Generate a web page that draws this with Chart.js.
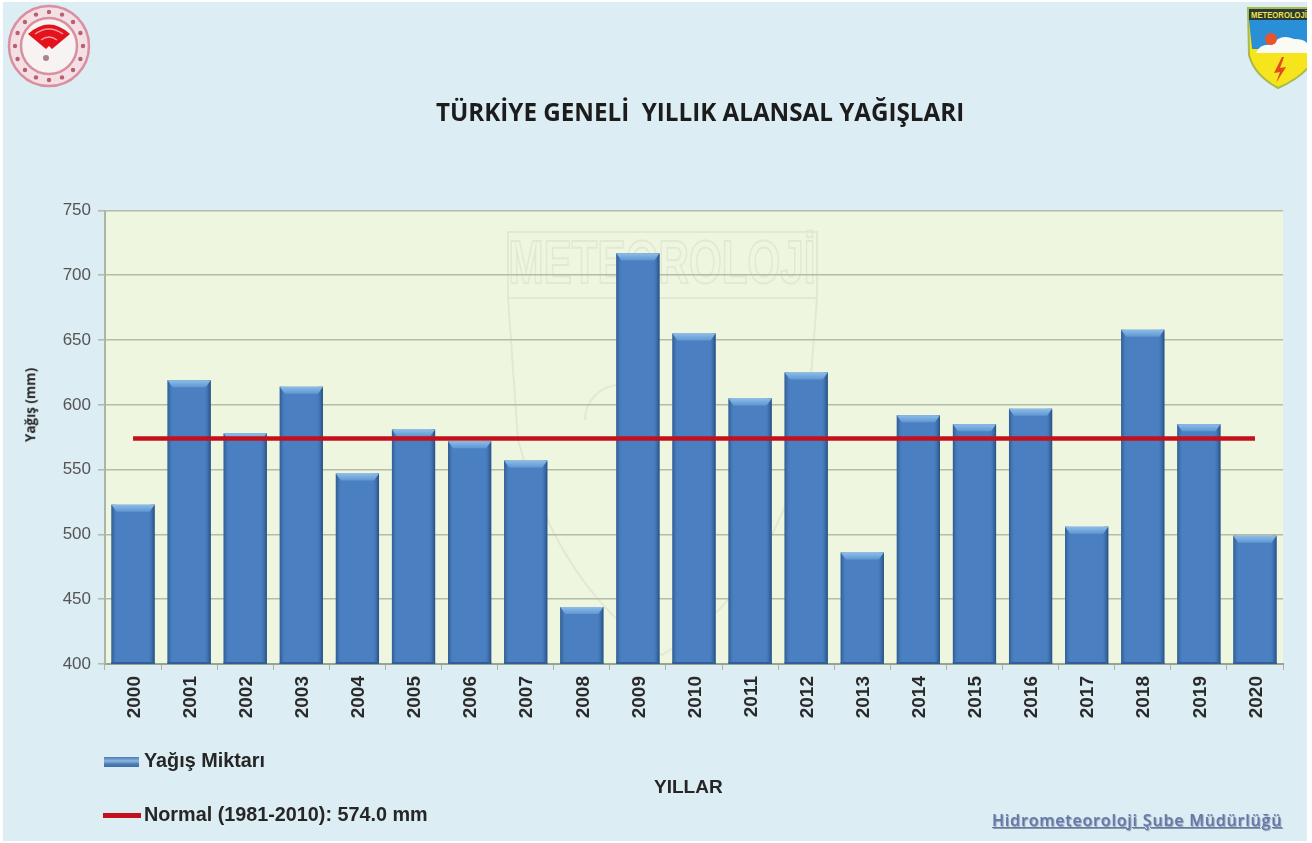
<!DOCTYPE html>
<html lang="tr">
<head>
<meta charset="utf-8">
<title>Türkiye Geneli Yıllık Alansal Yağışları</title>
<script src="https://cdn.jsdelivr.net/npm/chart.js@4"></script>
<style>
    html, body { margin: 0; padding: 0; background: #fff; overflow: hidden; }
    #page { position: relative; width: 1312px; height: 843px; overflow: hidden; filter: blur(0.7px); }
    #bg { position: absolute; left: 3px; top: 2px; width: 1304px; height: 839px; background: #dcedf3; }
    canvas { position: absolute; left: 0; top: 0; }
    .lbl { position: absolute; white-space: pre; font-family: "Liberation Sans", Arial, sans-serif; font-weight: bold; color: #262626; line-height: 1; }
    #title { left: 436px; top: 100px; font: bold 24.2px "Open Sans", sans-serif; line-height: 1; color: #1c1c1c; }
    #ytitle { left: 31px; top: 405px; font: bold 13.5px "Open Sans", sans-serif; line-height: 1; transform: translate(-50%, -50%) rotate(-90deg); }
    #xtitle { left: 654px; top: 777px; font-size: 19px; }
    #leg1 { left: 144px; top: 751px; font-size: 19.8px; }
    #leg2 { left: 144px; top: 805px; font-size: 19.8px; }
    #sw1 { position: absolute; left: 104px; top: 757px; width: 35px; height: 10px; background: linear-gradient(#4a7db8, #8db6dd 40%, #4a7db8 70%, #3f6ea6); }
    #sw2 { position: absolute; left: 103px; top: 813px; width: 38px; height: 5px; background: #c4101c; }
    #footer { left: 992px; top: 812px; font: 600 16px "Open Sans", sans-serif; letter-spacing: 0.82px; line-height: 1; color: #6478a8; text-decoration: underline; text-shadow: 1px 1px 1px #8b97ad; }
    svg { position: absolute; }
</style>
</head>
<body>
<div id="page">
    <div id="bg"></div>
    <canvas id="yagis-chart" width="1312" height="843"></canvas>

    <svg style="left:5px;top:2px" width="88" height="88" viewBox="0 0 88 88">
        <circle cx="44" cy="44" r="40" fill="#f3dfe4" stroke="#d98f9f" stroke-width="2.5"/>
        <circle cx="44" cy="44" r="28" fill="#f7f3f3" stroke="#d98f9f" stroke-width="2.5"/>
        <g id="dots" fill="#b8606f"></g>
        <path d="M23 32 Q44 13 65 32 L47 47 L44 44 L41 47 Z" fill="#e3121c"/>
        <path d="M30 32 Q44 22 58 32 M36 38 Q44 32 52 38" fill="none" stroke="#f59aa0" stroke-width="1.5"/>
        <circle cx="41" cy="56" r="3" fill="#a9848a"/>
    </svg>
    <svg style="left:1246px;top:7px" width="61" height="83" viewBox="0 0 61 83">
        <path d="M2 1 H70 V48 Q62 68 32 81 Q8 68 3 48 Z" fill="#f6e41c" stroke="#a9b84f" stroke-width="2"/>
        <rect x="3" y="2" width="58" height="11" fill="#2a3a34"/>
        <text x="5" y="11" font-family="Liberation Sans" font-size="9" font-weight="bold" fill="#f0e24a" textLength="56" lengthAdjust="spacingAndGlyphs">METEOROLOJİ</text>
        <path d="M3 13 H61 V42 H6 Z" fill="#2b8fd8"/>
        <path d="M10 46 Q14 36 26 38 Q34 26 48 32 Q58 32 61 36 V46 Z" fill="#fbfbf5"/>
        <circle cx="25" cy="32" r="6" fill="#e8552a"/>
        <path d="M36 50 L28 66 L34 65 L30 76 L40 60 L34 61 L38 50 Z" fill="#e2491f"/>
    </svg>

    <div class="lbl" id="title">TÜRKİYE GENELİ  YILLIK ALANSAL YAĞIŞLARI</div>
    <div class="lbl" id="ytitle">Yağış (mm)</div>
    <div class="lbl" id="xtitle">YILLAR</div>
    <div id="sw1"></div>
    <div class="lbl" id="leg1">Yağış Miktarı</div>
    <div id="sw2"></div>
    <div class="lbl" id="leg2">Normal (1981-2010): 574.0 mm</div>
    <div class="lbl" id="footer">Hidrometeoroloji Şube Müdürlüğü</div>
</div>

<script>
const years = ['2000', '2001', '2002', '2003', '2004', '2005', '2006', '2007', '2008', '2009', '2010',
    '2011', '2012', '2013', '2014', '2015', '2016', '2017', '2018', '2019', '2020'];
const yagisMiktari = [523, 619, 578, 614, 547, 581, 572, 557, 444, 717, 655,
    605, 625, 486, 592, 585, 597, 506, 658, 585, 499];
const normalYagis = [574, 574, 574, 574, 574, 574, 574, 574, 574, 574, 574,
    574, 574, 574, 574, 574, 574, 574, 574, 574, 574];

// dots around the left logo
const dots = document.getElementById('dots');
for (let i = 0; i < 16; i++) {
    const a = i / 16 * Math.PI * 2;
    const c = document.createElementNS('http://www.w3.org/2000/svg', 'circle');
    c.setAttribute('cx', 44 + Math.cos(a) * 34);
    c.setAttribute('cy', 44 + Math.sin(a) * 34);
    c.setAttribute('r', 2.2);
    dots.appendChild(c);
}

// plot background and the faint watermark behind the grid
const plotBackground = {
    id: 'plotBackground',
    beforeDraw(chart) {
        const { ctx, chartArea: a } = chart;
        ctx.save();
        ctx.fillStyle = '#eef6e0';
        ctx.fillRect(a.left, a.top, a.width, a.height);
        ctx.strokeStyle = '#e2e8d2';
        ctx.lineWidth = 2;
        ctx.strokeRect(508, 232, 309, 66);
        ctx.beginPath();
        ctx.moveTo(508, 298);
        ctx.lineTo(518, 440);
        ctx.quadraticCurveTo(560, 590, 662, 655);
        ctx.quadraticCurveTo(770, 590, 806, 440);
        ctx.lineTo(817, 298);
        ctx.moveTo(585, 420);
        ctx.arc(620, 420, 35, Math.PI, Math.PI * 1.7);
        ctx.stroke();
        ctx.font = 'bold 62px "Liberation Sans"';
        ctx.textAlign = 'center';
        ctx.textBaseline = 'middle';
        ctx.translate(662, 266);
        ctx.scale(0.68, 1);
        ctx.strokeText('METEOROLOJİ', 0, 0);
        ctx.restore();
    }
};

// bevel on each bar, drawn before the red line
const barBevel = {
    id: 'barBevel',
    afterDatasetDraw(chart, args) {
        if (args.index !== 0) return;
        const ctx = chart.ctx;
        // the bars start at the axis minimum, not at bar.base (which is value 0)
        const b = chart.chartArea.bottom;
        ctx.save();
        args.meta.data.forEach((bar) => {
            const l = bar.x - bar.width / 2;
            const r = bar.x + bar.width / 2;
            const t = bar.y;
            const left = ctx.createLinearGradient(l, 0, l + 6, 0);
            left.addColorStop(0, 'rgba(40,80,130,0.8)');
            left.addColorStop(1, 'rgba(74,128,194,0)');
            ctx.fillStyle = left;
            ctx.fillRect(l, t, 6, b - t);
            const right = ctx.createLinearGradient(r - 7, 0, r, 0);
            right.addColorStop(0, 'rgba(74,128,194,0)');
            right.addColorStop(1, 'rgba(36,74,122,0.95)');
            ctx.fillStyle = right;
            ctx.fillRect(r - 7, t, 7, b - t);
            const top = ctx.createLinearGradient(0, t, 0, t + 7);
            top.addColorStop(0, '#8dbde8');
            top.addColorStop(1, '#5f97d2');
            ctx.fillStyle = top;
            ctx.beginPath();
            ctx.moveTo(l, t);
            ctx.lineTo(r, t);
            ctx.lineTo(r - 5, t + 7);
            ctx.lineTo(l + 5, t + 7);
            ctx.closePath();
            ctx.fill();
            ctx.fillStyle = '#2f5f96';
            ctx.fillRect(l, b - 2, bar.width, 2);
        });
        ctx.restore();
    }
};

new Chart(document.getElementById('yagis-chart').getContext('2d'), {
    data: {
        labels: years,
        datasets: [{
            type: 'bar',
            label: 'Yağış Miktarı',
            data: yagisMiktari,
            backgroundColor: '#4a80c2',
            categoryPercentage: 1,
            barPercentage: 0.77,
            order: 2
        }, {
            type: 'line',
            label: 'Normal (1981-2010): 574.0 mm',
            data: normalYagis,
            borderColor: '#c4101c',
            borderWidth: 4.5,
            pointRadius: 0,
            tension: 0,
            order: 1
        }]
    },
    options: {
        responsive: false,
        animation: false,
        layout: { padding: { left: 0, right: 29, top: 210.5, bottom: 0 } },
        scales: {
            x: {
                afterFit: (scale) => { scale.height = 179; },
                ticks: {
                    color: '#2a2a2a',
                    font: { family: '"Liberation Sans"', size: 19, weight: 'bold' },
                    minRotation: 90,
                    maxRotation: 90,
                    autoSkip: false,
                    padding: 6,
                    labelOffset: 1.5
                },
                grid: { drawOnChartArea: false, color: '#a9b3a0', tickLength: 6 },
                border: { color: '#9aa392', width: 2 }
            },
            y: {
                min: 400,
                max: 750,
                afterFit: (scale) => { scale.width = 105; },
                ticks: {
                    stepSize: 50,
                    color: '#555',
                    font: { family: '"Liberation Sans"', size: 17 },
                    padding: 7
                },
                grid: { color: '#b4bba6', lineWidth: 1.6, tickLength: 7 },
                border: { color: '#aab5a6', width: 2 }
            }
        },
        plugins: {
            legend: { display: false },
            tooltip: { enabled: false }
        }
    },
    plugins: [plotBackground, barBevel]
});
</script>
</body>
</html>
